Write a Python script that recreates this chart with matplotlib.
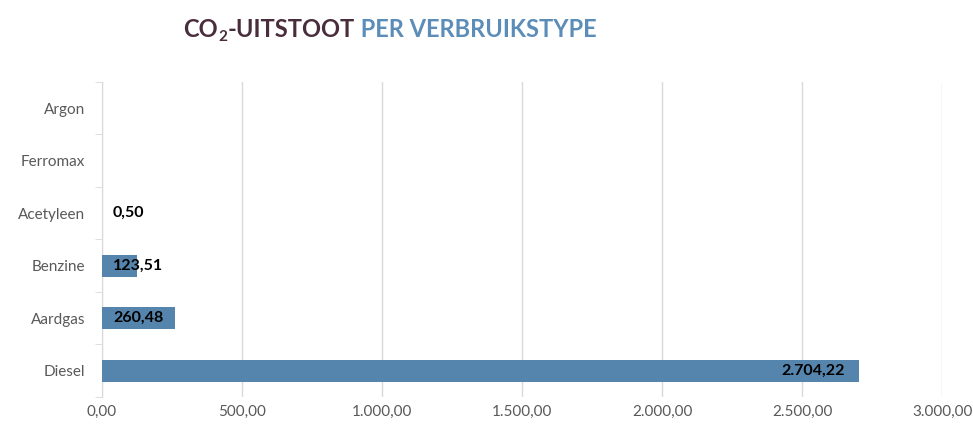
import matplotlib
matplotlib.use('Agg')
import matplotlib.pyplot as plt
from matplotlib.ticker import FuncFormatter
from matplotlib.transforms import ScaledTranslation

categories = ['Diesel', 'Aardgas', 'Benzine', 'Acetyleen', 'Ferromax', 'Argon']
values = [2704.22, 260.48, 123.51, 0.50, None, None]
x_ticks = [0, 500, 1000, 1500, 2000, 2500, 3000]

bar_color = '#5585ad'
grid_color = '#d9d9d9'
label_color = '#595959'


def nl_fmt(v, pos=None):
    s = '{:,.2f}'.format(v)
    return s.replace(',', 'X').replace('.', ',').replace('X', '.')


plt.rcParams['font.family'] = ['Lato', 'DejaVu Sans']

fig = plt.figure(figsize=(9.73, 4.29), dpi=100)
ax = fig.add_axes([0.1048, 0.0746, 0.8634, 0.7345])

ypos = list(range(len(categories)))
bar_vals = [v if v is not None else 0 for v in values]
ax.barh(ypos, bar_vals, height=0.42, color=bar_color, zorder=3)

ax.set_xlim(0, 3000)
ax.set_ylim(-0.5, len(categories) - 0.5)
ax.set_xticks(x_ticks)
ax.xaxis.set_major_formatter(FuncFormatter(nl_fmt))
ax.set_yticks(ypos)
ax.set_yticklabels(categories)
ax.set_yticks([i - 0.5 for i in range(len(categories) + 1)], minor=True)

ax.grid(axis='x', color=grid_color, linewidth=1, zorder=0)
for s in ['top', 'right', 'bottom']:
    ax.spines[s].set_visible(False)
ax.spines['left'].set_color(grid_color)
ax.tick_params(axis='x', length=0, pad=6, labelsize=11, labelcolor=label_color)
ax.tick_params(axis='y', which='major', length=0, pad=12, labelsize=11, labelcolor=label_color)
ax.tick_params(axis='y', which='minor', length=5, color=grid_color)

# data labels
fig.canvas.draw()
renderer = fig.canvas.get_renderer()
px_per_unit = ax.transData.transform((1, 0))[0] - ax.transData.transform((0, 0))[0]
for y, v in zip(ypos, values):
    if v is None:
        continue
    t = ax.text(0, y, nl_fmt(v), fontsize=11.5, fontweight='bold', color='black',
                va='center', ha='left', zorder=4)
    w = t.get_window_extent(renderer).width
    bar_px = v * px_per_unit
    if bar_px - 14 - w > 11:
        t.set_x(v)
        t.set_ha('right')
        t.set_transform(ax.transData + ScaledTranslation(-14 / 100, 0, fig.dpi_scale_trans))
    else:
        t.set_transform(ax.transData + ScaledTranslation(11 / 100, 0, fig.dpi_scale_trans))

# title with subscript, pieces placed side by side
title_y = 1 - 37 / 429
pieces = [('CO', 17, '#4a2d3c', 0), ('2', 11, '#4a2d3c', -4 / 429),
          ('-UITSTOOT', 17, '#4a2d3c', 0), (' PER VERBRUIKSTYPE', 17, '#5b8db8', 0)]
x = 183 / 973
for txt, size, col, dy in pieces:
    t = fig.text(x, title_y + dy, txt, fontsize=size, fontweight='bold', color=col,
                 va='baseline', ha='left')
    fig.canvas.draw()
    x += t.get_window_extent(renderer).width / 973 + 0.5 / 973

fig.savefig('out.png', dpi=100)
